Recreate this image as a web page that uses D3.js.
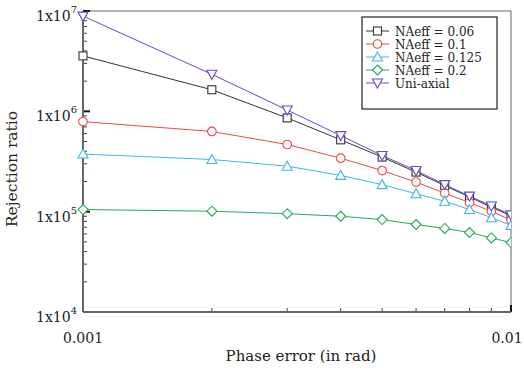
<!DOCTYPE html>
<html>
<head>
<meta charset="utf-8">
<script src="https://cdn.jsdelivr.net/npm/d3@7"></script>
<style>
  body { margin: 0; background: #fff; }
  text { font-family: "DejaVu Serif", serif; fill: #222; }
</style>
</head>
<body>
<div id="chart"></div>
<script>
// phase error values (rad)
const phaseErr = [0.001, 0.002, 0.003, 0.004, 0.005, 0.006, 0.007, 0.008, 0.009, 0.01];

// rejection ratio per curve
const na006 = [3.57e6, 1.64e6, 8.6e5, 5.2e5, 3.5e5, 2.48e5, 1.82e5, 1.4e5, 1.11e5, 9.1e4];
const na01 = [7.9e5, 6.3e5, 4.67e5, 3.41e5, 2.57e5, 1.97e5, 1.53e5, 1.23e5, 1.01e5, 8.2e4];
const na0125 = [3.75e5, 3.31e5, 2.84e5, 2.3e5, 1.86e5, 1.51e5, 1.27e5, 1.05e5, 8.7e4, 7.3e4];
const na02 = [1.05e5, 1.01e5, 9.55e4, 9.0e4, 8.34e4, 7.45e4, 6.8e4, 6.2e4, 5.47e4, 4.92e4];
const uniAxial = [8.9e6, 2.34e6, 1.03e6, 5.73e5, 3.63e5, 2.57e5, 1.86e5, 1.43e5, 1.14e5, 9.3e4];

const seriesNames = ["NAeff = 0.06", "NAeff = 0.1", "NAeff = 0.125", "NAeff = 0.2", "Uni-axial"];
const seriesValues = [na006, na01, na0125, na02, uniAxial];
const seriesColors = ["#333333", "#ee4a45", "#3cb8e6", "#22aa5a", "#5b4fc8"];
const seriesMarkers = ["square", "circle", "triangleUp", "diamond", "triangleDown"];

const yTickVals = [1e4, 1e5, 1e6, 1e7];
const yTickExp = ["4", "5", "6", "7"];
const xTickLabels = ["0.001", "0.01"];

const width = 524, height = 372;
const margin = { top: 11, right: 13, bottom: 60, left: 83 };
const plotW = width - margin.left - margin.right;
const plotH = height - margin.top - margin.bottom;

const svg = d3.select("#chart").append("svg")
    .attr("width", width)
    .attr("height", height);

const g = svg.append("g")
    .attr("transform", `translate(${margin.left},${margin.top})`);

const x = d3.scaleLog().domain([0.001, 0.01]).range([0, plotW]);
const y = d3.scaleLog().domain([1e4, 1e7]).range([plotH, 0]);

// frame: top/right light, left/bottom heavier
g.append("line").attr("x1", 0).attr("x2", plotW).attr("y1", 0).attr("y2", 0)
    .attr("stroke", "#999").attr("stroke-width", 1.3);
g.append("line").attr("x1", plotW).attr("x2", plotW).attr("y1", 0).attr("y2", plotH)
    .attr("stroke", "#888").attr("stroke-width", 1.3);

// y minor ticks
const yMinor = [];
for (let e = 4; e < 7; e++) for (let k = 2; k <= 9; k++) yMinor.push(k * Math.pow(10, e));
g.selectAll(".ymin").data(yMinor).enter().append("line")
    .attr("x1", 0).attr("x2", 4)
    .attr("y1", d => y(d)).attr("y2", d => y(d))
    .attr("stroke", "#444").attr("stroke-width", 1);
g.selectAll(".ymaj").data(yTickVals).enter().append("line")
    .attr("x1", 0).attr("x2", 7)
    .attr("y1", d => y(d)).attr("y2", d => y(d))
    .attr("stroke", "#111").attr("stroke-width", 2);

// x minor ticks
const xMinor = [0.002, 0.003, 0.004, 0.005, 0.006, 0.007, 0.008, 0.009];
g.selectAll(".xmin").data(xMinor).enter().append("line")
    .attr("x1", d => x(d)).attr("x2", d => x(d))
    .attr("y1", plotH).attr("y2", plotH - 4)
    .attr("stroke", "#444").attr("stroke-width", 1);
g.selectAll(".xmaj").data([0.001, 0.01]).enter().append("line")
    .attr("x1", d => x(d)).attr("x2", d => x(d))
    .attr("y1", plotH).attr("y2", plotH - 7)
    .attr("stroke", "#111").attr("stroke-width", 2);

g.append("line").attr("x1", 0).attr("x2", 0).attr("y1", 0).attr("y2", plotH)
    .attr("stroke", "#666").attr("stroke-width", 2);
g.append("line").attr("x1", 0).attr("x2", plotW).attr("y1", plotH).attr("y2", plotH)
    .attr("stroke", "#666").attr("stroke-width", 2);

// y tick labels 1x10^n
const yl = g.selectAll(".ylab").data(yTickVals).enter().append("text")
    .attr("x", -6).attr("y", d => y(d) + 10)
    .attr("text-anchor", "end")
    .attr("font-size", 14);
yl.append("tspan").text("1x10");
yl.append("tspan").attr("dy", -8).attr("font-size", 10).text((d, i) => yTickExp[i]);

// x tick labels
g.selectAll(".xlab").data([0.001, 0.01]).enter().append("text")
    .attr("x", d => x(d) - (d === 0.01 ? 4 : 0)).attr("y", plotH + 31)
    .attr("text-anchor", "middle")
    .attr("font-size", 14)
    .text((d, i) => xTickLabels[i]);

// axis titles
g.append("text")
    .attr("x", plotW / 2 + 4).attr("y", plotH + 49)
    .attr("text-anchor", "middle")
    .attr("font-size", 15)
    .text("Phase error (in rad)");
g.append("text")
    .attr("transform", "rotate(-90)")
    .attr("x", -158).attr("y", -66)
    .attr("text-anchor", "middle")
    .attr("font-size", 15.5)
    .text("Rejection ratio");

// markers
function drawMarker(sel, type, color) {
    if (type === "circle") {
        sel.append("circle").attr("r", 4.3);
    } else if (type === "square") {
        sel.append("rect").attr("x", -4).attr("y", -4).attr("width", 8).attr("height", 8);
    } else if (type === "triangleUp") {
        sel.append("path").attr("d", "M0,-5L5,4L-5,4Z");
    } else if (type === "triangleDown") {
        sel.append("path").attr("d", "M0,5L5,-4L-5,-4Z");
    } else if (type === "diamond") {
        sel.append("path").attr("d", "M0,-5L5,0L0,5L-5,0Z");
    }
    sel.selectAll("circle,rect,path")
        .attr("fill", "#fff").attr("stroke", color).attr("stroke-width", 1.1);
}

const line = d3.line()
    .x((d, i) => x(phaseErr[i]))
    .y(d => y(d));

svg.append("clipPath").attr("id", "plotclip")
    .append("rect").attr("x", -6).attr("y", -6).attr("width", plotW + 6).attr("height", plotH + 12);

seriesValues.forEach((vals, s) => {
    const sg = g.append("g").attr("clip-path", "url(#plotclip)");
    sg.append("path")
        .datum(vals)
        .attr("fill", "none")
        .attr("stroke", seriesColors[s])
        .attr("stroke-width", 1)
        .attr("d", line);
    vals.forEach((v, i) => {
        const m = sg.append("g").attr("transform", `translate(${x(phaseErr[i])},${y(v)})`);
        drawMarker(m, seriesMarkers[s], seriesColors[s]);
    });
});

// legend
const lg = svg.append("g").attr("transform", "translate(362,17)");
lg.append("rect").attr("width", 135).attr("height", 92)
    .attr("fill", "#fff").attr("stroke", "#222").attr("stroke-width", 1.2);
seriesNames.forEach((name, s) => {
    const row = lg.append("g").attr("transform", `translate(0,${14 + s * 13})`);
    row.append("line").attr("x1", 4).attr("x2", 27).attr("y1", 0).attr("y2", 0)
        .attr("stroke", seriesColors[s]).attr("stroke-width", 1);
    const m = row.append("g").attr("transform", "translate(15.5,0)");
    drawMarker(m, seriesMarkers[s], seriesColors[s]);
    row.append("text").attr("x", 33).attr("y", 4.5)
        .attr("font-size", 12).text(name);
});
</script>
</body>
</html>
